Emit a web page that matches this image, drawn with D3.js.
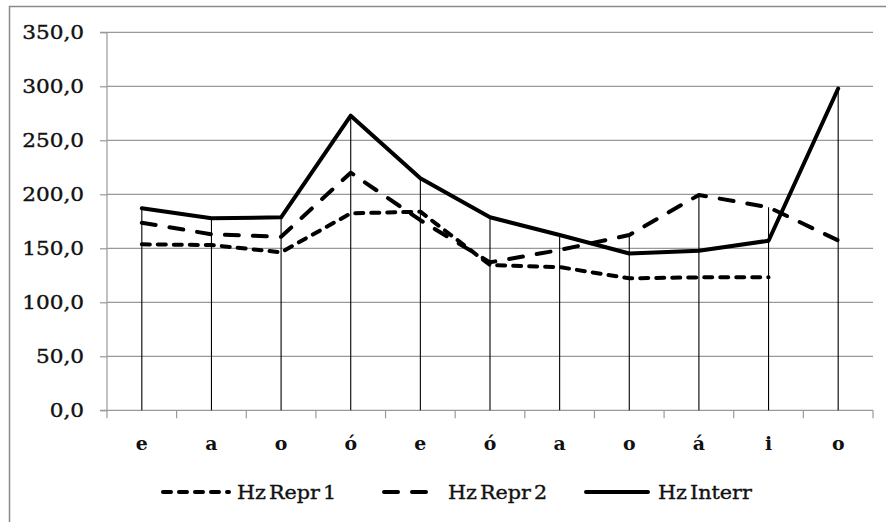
<!DOCTYPE html>
<html><head><meta charset="utf-8">
<script src="https://cdn.jsdelivr.net/npm/d3@7"></script>
<style>body{margin:0;background:#fff}svg{display:block}</style>
</head><body>
<svg id="c" width="886" height="522"></svg>
<script>
const categories = ["e","a","o","ó","e","ó","a","o","á","i","o"];
const hzRepr1 = [153.7,153,146.3,182.4,183.9,134.5,132.6,122.2,123.1,123.1,null];
const hzRepr2 = [173.7,163,160.7,220,176,137,148.4,162.3,199.4,188,157.3];
const hzInterr = [187,177.8,178.7,272.8,214.8,178.7,162.3,145.2,147.8,157,298];
const yTicks = [0,50,100,150,200,250,300,350];
const seriesNames = ["Hz Repr 1","Hz Repr 2","Hz Interr"];

(function(){
const svg = d3.select("#c");
const W = 886, H = 522;
const pLeft = 107, pRight = 873, pTop = 32.3, pBottom = 410.3;
const font = "'DejaVu Serif', serif";
const SX = 1.2;

svg.append("rect").attr("x",9.5).attr("y",6.5).attr("width",W+20).attr("height",H+20)
  .attr("fill","#fff").attr("stroke","#8a8a8a").attr("stroke-width",1.5);

const x = d3.scaleBand().domain(d3.range(categories.length)).range([pLeft,pRight]).padding(0);
const y = d3.scaleLinear().domain([0,350]).range([pBottom,pTop]);
const loc = d3.formatLocale({decimal:",",thousands:".",grouping:[3],currency:["",""]});
const fmt = loc.format(".1f");

// gridlines
svg.append("g").selectAll("line").data(yTicks.filter(d=>d>0)).join("line")
  .attr("x1",pLeft).attr("x2",pRight).attr("y1",d=>y(d)).attr("y2",d=>y(d))
  .attr("stroke","#999").attr("stroke-width",1.2);

// y axis
const ya = svg.append("g").attr("transform",`translate(${pLeft},0)`)
  .call(d3.axisLeft(y).tickValues(yTicks).tickSize(7).tickFormat(""));
ya.selectAll("path,line").attr("stroke","#999").attr("stroke-width",1.2);
ya.select(".domain").attr("d",`M-7,${pTop}H0V${pBottom}H-7`);
svg.append("g").selectAll("text").data(yTicks).join("text")
  .attr("transform",d=>`translate(84,${y(d)+6.5}) scale(${SX},1)`)
  .attr("text-anchor","end").attr("font-family",font).attr("font-size",18).attr("fill","#111")
  .attr("stroke","#111").attr("stroke-width",0.35)
  .text(d=>fmt(d));

// x axis
const bounds = d3.range(categories.length+1).map(i=>pLeft + i*x.step());
svg.append("line").attr("x1",pLeft).attr("x2",pRight).attr("y1",pBottom).attr("y2",pBottom)
  .attr("stroke","#999").attr("stroke-width",1.2);
svg.append("g").selectAll("line").data(bounds).join("line")
  .attr("x1",d=>d).attr("x2",d=>d).attr("y1",pBottom).attr("y2",pBottom+8)
  .attr("stroke","#999").attr("stroke-width",1.2);
svg.append("g").selectAll("text").data(categories).join("text")
  .attr("transform",(d,i)=>`translate(${x(i)+x.bandwidth()/2},450) scale(1.05,1)`)
  .attr("text-anchor","middle").attr("font-family",font).attr("font-weight","bold")
  .attr("font-size",18).attr("fill","#111").text(d=>d);

// drop lines
const maxVals = categories.map((c,i)=>d3.max([hzRepr1[i],hzRepr2[i],hzInterr[i]]));
svg.append("g").selectAll("line").data(maxVals).join("line")
  .attr("x1",(d,i)=>x(i)+x.bandwidth()/2).attr("x2",(d,i)=>x(i)+x.bandwidth()/2)
  .attr("y1",d=>y(d)).attr("y2",pBottom).attr("stroke","#000").attr("stroke-width",1.1);

// series
const styles = [
  {data:hzRepr1, dash:"8,8"},
  {data:hzRepr2, dash:"14,14"},
  {data:hzInterr, dash:null}
];
const line = d3.line().defined(d=>d!=null)
  .x((d,i)=>x(i)+x.bandwidth()/2).y(d=>y(d));
styles.forEach(s=>{
  svg.append("path").datum(s.data).attr("d",line).attr("fill","none")
    .attr("stroke","#000").attr("stroke-width",4).attr("stroke-linejoin","round")
    .attr("stroke-linecap","round").attr("stroke-dasharray",s.dash);
});

// legend
const legend = [
  {name:seriesNames[0], x1:163, x2:229, tx:237, dash:"8,8"},
  {name:seriesNames[1], x1:384, x2:440, tx:448, dash:"14,14"},
  {name:seriesNames[2], x1:586, x2:648, tx:658, dash:null}
];
legend.forEach(l=>{
  svg.append("line").attr("x1",l.x1).attr("x2",l.x2).attr("y1",492).attr("y2",492)
    .attr("stroke","#000").attr("stroke-width",4).attr("stroke-linecap","round")
    .attr("stroke-dasharray",l.dash);
  svg.append("text").attr("transform",`translate(${l.tx},499) scale(1.15,1)`)
    .attr("font-family",font).attr("font-size",18).attr("fill","#111")
    .attr("stroke","#111").attr("stroke-width",0.35)
    .attr("word-spacing","-3").text(l.name);
});
})();
</script>
</body></html>
